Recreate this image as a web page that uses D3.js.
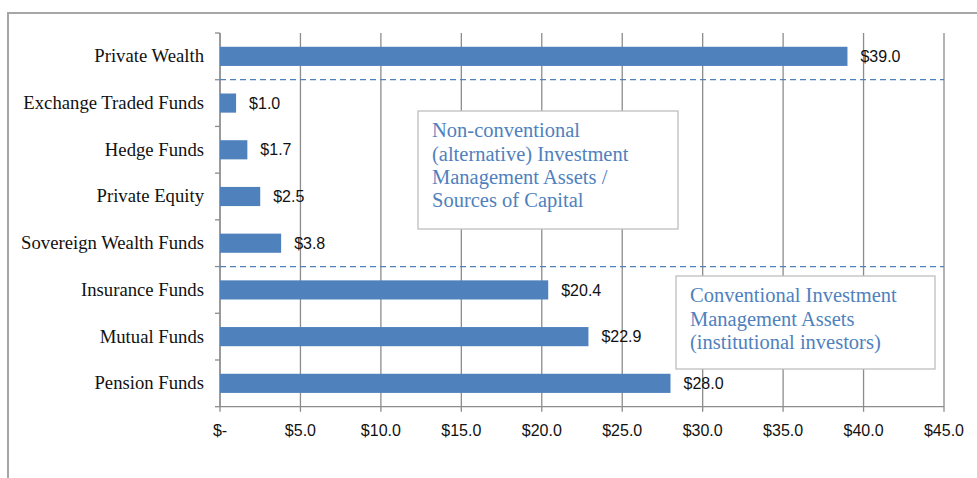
<!DOCTYPE html>
<html>
<head>
<meta charset="utf-8">
<script src="https://cdn.jsdelivr.net/npm/d3@7"></script>
<style>
  body { margin: 0; background: #fff; }
  svg { display: block; }
</style>
</head>
<body>
<svg width="977" height="478"></svg>
<script>
const categories = ["Private Wealth", "Exchange Traded Funds", "Hedge Funds", "Private Equity",
    "Sovereign Wealth Funds", "Insurance Funds", "Mutual Funds", "Pension Funds"];
const values = [39.0, 1.0, 1.7, 2.5, 3.8, 20.4, 22.9, 28.0];
const xTicks = [0, 5, 10, 15, 20, 25, 30, 35, 40, 45];
// groups end after these categories -> dashed separator
const groupEnds = ["Private Wealth", "Sovereign Wealth Funds"];
const noteNonConv = ["Non-conventional", "(alternative) Investment", "Management Assets /", "Sources of Capital"];
const noteConv = ["Conventional Investment", "Management Assets", "(institutional investors)"];

const svg = d3.select("svg");
const margin = { top: 33, left: 220, right: 33, bottom: 71 };
const plotW = 944 - margin.left;
const plotH = 406.7 - margin.top;

const SERIF = "'Liberation Serif', 'Times New Roman', serif";
const SANS = "'Liberation Sans', Arial, sans-serif";
const BLUE = "#4F81BD";
const GRID = "#8c8c8c";

// outer frame (cut at right/bottom like the screenshot)
svg.append("rect")
    .attr("x", 8).attr("y", 13)
    .attr("width", 1200).attr("height", 800)
    .attr("fill", "none")
    .attr("stroke", "#a6a6a6")
    .attr("stroke-width", 2);

const g = svg.append("g").attr("transform", `translate(${margin.left},${margin.top})`);

const x = d3.scaleLinear().domain([0, 45]).range([0, plotW]);
const y = d3.scaleBand().domain(categories).range([0, plotH]).padding(0);

// vertical gridlines
g.selectAll(".grid")
    .data(xTicks)
    .enter()
    .append("line")
    .attr("class", "grid")
    .attr("x1", d => x(d)).attr("x2", d => x(d))
    .attr("y1", 0).attr("y2", plotH + 5)
    .attr("stroke", GRID)
    .attr("stroke-width", 1.3);

// x axis line + labels
g.append("line")
    .attr("x1", 0).attr("x2", plotW)
    .attr("y1", plotH).attr("y2", plotH)
    .attr("stroke", GRID).attr("stroke-width", 1.3);

g.selectAll(".xlab")
    .data(xTicks)
    .enter()
    .append("text")
    .attr("class", "xlab")
    .attr("x", d => x(d))
    .attr("y", plotH + 24)
    .attr("dy", "0.35em")
    .attr("text-anchor", "middle")
    .style("font-family", SANS)
    .style("font-size", "16px")
    .attr("fill", "#111")
    .text(d => d === 0 ? "$-" : "$" + d.toFixed(1));

// y axis line + ticks at band boundaries
g.append("line")
    .attr("x1", 0).attr("x2", 0)
    .attr("y1", 0).attr("y2", plotH)
    .attr("stroke", GRID).attr("stroke-width", 1.3);

g.selectAll(".ytick")
    .data(categories.concat(["end"]))
    .enter()
    .append("line")
    .attr("class", "ytick")
    .attr("x1", -5).attr("x2", 0)
    .attr("y1", (d, i) => i * y.step())
    .attr("y2", (d, i) => i * y.step())
    .attr("stroke", GRID).attr("stroke-width", 1.3);

g.selectAll(".ylab")
    .data(categories)
    .enter()
    .append("text")
    .attr("class", "ylab")
    .attr("x", -16)
    .attr("y", d => y(d) + y.bandwidth() / 2)
    .attr("dy", "0.32em")
    .attr("text-anchor", "end")
    .style("font-family", SERIF)
    .style("font-size", "18.7px")
    .attr("fill", "#111")
    .text(d => d);

// dashed group separators
g.selectAll(".sep")
    .data(groupEnds)
    .enter()
    .append("line")
    .attr("class", "sep")
    .attr("x1", 0).attr("x2", plotW)
    .attr("y1", d => y(d) + y.bandwidth())
    .attr("y2", d => y(d) + y.bandwidth())
    .attr("stroke", BLUE)
    .attr("stroke-width", 1.2)
    .attr("stroke-dasharray", "6,4");

// bars
const barH = y.bandwidth() * 0.41;
g.selectAll(".bar")
    .data(values)
    .enter()
    .append("rect")
    .attr("class", "bar")
    .attr("x", x(0))
    .attr("y", (d, i) => y(categories[i]) + (y.bandwidth() - barH) / 2)
    .attr("width", d => x(d) - x(0))
    .attr("height", barH)
    .attr("fill", BLUE);

g.selectAll(".val")
    .data(values)
    .enter()
    .append("text")
    .attr("class", "val")
    .attr("x", d => x(d) + 13)
    .attr("y", (d, i) => y(categories[i]) + y.bandwidth() / 2)
    .attr("dy", "0.35em")
    .style("font-family", SANS)
    .style("font-size", "16px")
    .attr("fill", "#111")
    .text(d => "$" + d.toFixed(1));

// annotation boxes
function noteBox(bx, by, bw, bh, lines) {
    const box = svg.append("g").attr("transform", `translate(${bx},${by})`);
    box.append("rect")
        .attr("width", bw).attr("height", bh)
        .attr("fill", "#fff")
        .attr("stroke", "#bfbfbf")
        .attr("stroke-width", 1.3);
    box.selectAll("text")
        .data(lines)
        .enter()
        .append("text")
        .attr("x", 14)
        .attr("y", (d, i) => 19 + i * 23.4)
        .attr("dy", "0.35em")
        .style("font-family", SERIF)
        .style("font-size", "20.5px")
        .attr("fill", BLUE)
        .text(d => d);
}

noteBox(418, 111, 260, 118, noteNonConv);
noteBox(676, 276, 259, 93, noteConv);
</script>
</body>
</html>
